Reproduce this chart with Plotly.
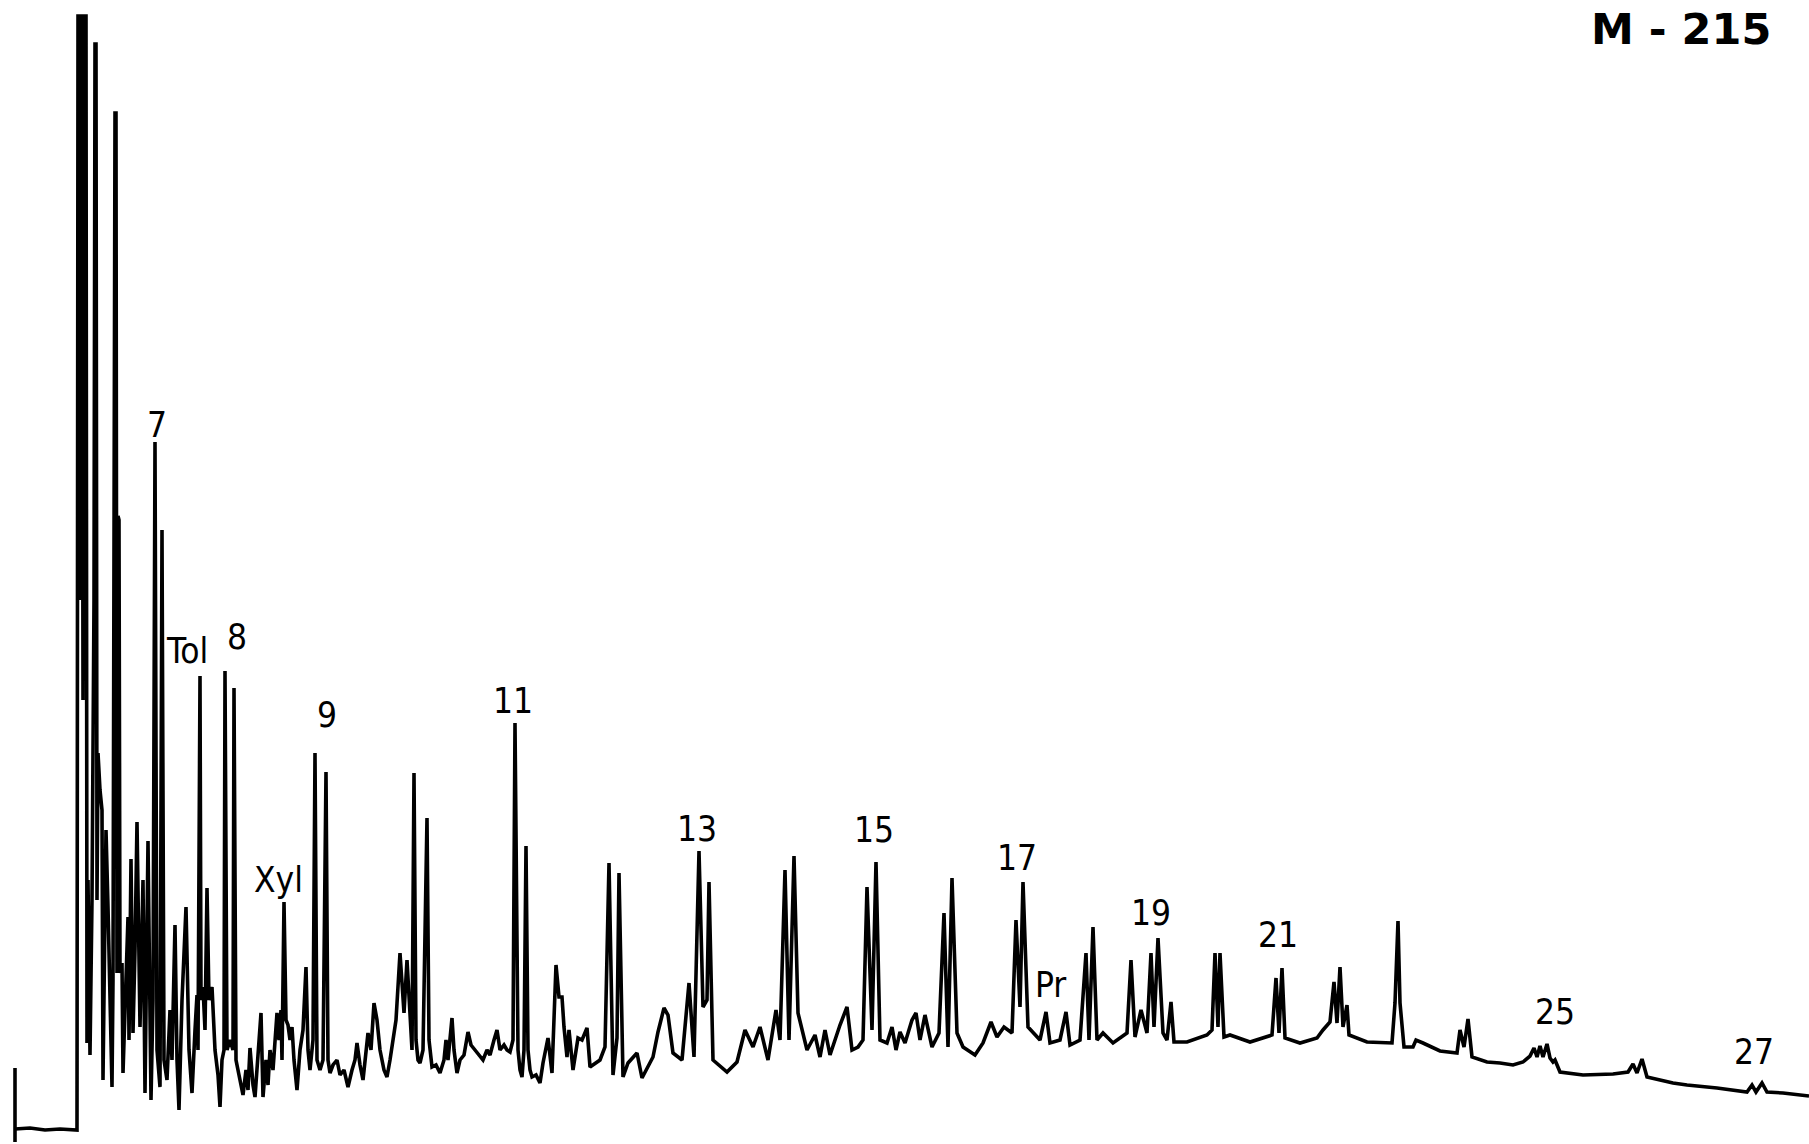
import plotly.graph_objects as go

# Gas chromatogram of sample M-215: retention axis (chart units) and detector response
rt = [
    15, 30, 45, 60, 77,
    78, 79, 80, 81, 82, 83, 84, 86, 87, 88, 90, 92, 94, 95, 96, 97, 98, 100, 102, 103,
    105, 106, 108, 110, 112, 113, 115, 116, 117, 118, 119, 120, 122, 123, 126, 128, 129,
    131, 133, 135, 137, 140, 143, 145, 148, 151, 153, 155, 157, 160, 162, 164, 167, 170,
    172, 175, 177, 179, 182, 186, 189, 192, 195, 197, 198, 200, 201, 203, 205, 207, 209,
    212, 215, 218, 220, 222, 224, 225, 227, 230, 233, 234, 236, 240, 243, 246, 248, 250,
    253, 255, 258, 261, 263, 266, 268, 270, 273, 277, 279, 281, 282, 284, 286, 288, 290,
    292, 294, 297, 300, 303, 306, 308, 310, 313, 315, 317, 320, 323, 326, 328, 330, 333,
    337, 340, 344, 348, 352, 355, 357, 360, 363, 366, 368, 371, 374, 377, 380, 384, 387,
    390, 393, 396, 400, 402, 404, 407, 409, 412, 414, 416, 418, 420, 423, 427, 429, 432,
    436, 440, 444, 446, 448, 452, 454, 457, 460, 464, 468, 471, 475, 479, 483, 487, 490,
    494, 497, 500, 504, 507, 510, 513, 515, 518, 520, 522, 524, 526, 528, 530, 532, 536,
    540, 543, 548, 552, 556, 559, 562, 564, 567, 569, 573, 578, 582, 587, 590, 600, 605,
    609, 613, 617, 619, 623, 628, 637, 642, 653, 658, 664, 668, 673, 682, 689, 694, 699,
    703, 707, 709, 713, 727, 737, 745, 753, 760, 768, 776, 780, 785, 789, 794, 798, 807,
    815, 820, 825, 830, 840, 847, 852, 858, 863, 867, 872, 876, 880, 887, 892, 896, 900,
    905, 912, 916, 920, 925, 932, 939, 944, 948, 952, 957, 963, 975, 983, 991, 997, 1004,
    1012, 1016, 1020, 1023, 1028, 1033, 1040, 1046, 1050, 1060, 1066, 1070, 1080, 1086,
    1089, 1093, 1097, 1103, 1113, 1127, 1131, 1135, 1141, 1147, 1151, 1154, 1158, 1163,
    1167, 1171, 1174, 1187, 1207, 1212, 1215, 1218, 1220, 1224, 1230, 1250, 1272, 1276,
    1279, 1282, 1285, 1300, 1317, 1323, 1330, 1334, 1337, 1340, 1343, 1347, 1349, 1367,
    1392, 1395, 1398, 1400, 1404, 1413, 1416, 1423, 1440, 1457, 1460, 1464, 1468, 1472,
    1487, 1500, 1513, 1523, 1530, 1534, 1537, 1540, 1543, 1547, 1550, 1553, 1555, 1560,
    1583, 1613, 1628, 1633, 1637, 1642, 1647, 1673, 1687, 1717, 1747, 1752, 1756, 1762,
    1767, 1783, 1809,
]

response = [
    1, 2, 0, 1, 0,
    1114, 1114, 530, 1114, 1114, 430, 1114, 1114, 87, 250, 75, 230, 530, 1086, 1086, 230, 377, 340, 320, 50,
    280, 300, 223, 130, 43, 150, 1017, 1017, 157, 614, 610, 157, 167, 57, 150, 213, 90,
    271, 97, 180, 308, 103, 250, 37, 289, 30, 130, 688, 80, 43, 600, 70, 50, 120,
    70, 205, 70, 20, 130, 223, 80, 37, 100, 135, 80, 454, 130, 143, 100, 242, 130,
    143, 80, 55, 23, 70, 80, 459, 80, 90, 80, 442, 70, 47, 35, 60, 40, 82,
    45, 33, 70, 117, 33, 70, 45, 80, 60, 117, 90, 120, 70, 228, 110, 105, 90,
    103, 70, 40, 80, 100, 163, 80, 60, 90, 377, 70, 60, 70, 358, 70, 57, 65,
    70, 55, 60, 43, 60, 70, 87, 65, 50, 80, 97, 80, 127, 110, 80, 60, 53,
    70, 90, 110, 177, 140, 117, 170, 130, 80, 357, 90, 70, 67, 80, 312, 90, 63,
    65, 57, 70, 90, 70, 112, 80, 57, 70, 75, 98, 85, 80, 75, 70, 80, 75,
    90, 100, 80, 85, 80, 78, 90, 407, 80, 60, 53, 80, 284, 80, 60, 53, 55,
    47, 67, 92, 57, 165, 133, 133, 103, 73, 100, 60, 92, 90, 102, 63, 70, 83,
    267, 55, 92, 257, 53, 67, 77, 52, 73, 98, 122, 115, 77, 70, 147, 73, 279,
    123, 130, 248, 70, 58, 68, 100, 83, 103, 70, 120, 90, 260, 90, 274, 117, 80,
    95, 73, 100, 75, 105, 123, 80, 83, 90, 243, 100, 268, 90, 87, 103, 80, 98,
    87, 110, 117, 90, 115, 83, 97, 217, 83, 252, 97, 83, 75, 87, 108, 93, 103,
    97, 210, 123, 248, 103, 97, 90, 118, 87, 90, 118, 85, 90, 177,
    90, 203, 90, 97, 87, 97, 170, 93, 120, 97, 177, 103, 192, 97,
    90, 128, 88, 88, 95, 100, 177, 103, 177, 93, 95, 88, 95, 152,
    97, 162, 92, 87, 92, 100, 108, 148, 107, 163, 103, 125, 95, 88,
    87, 127, 209, 127, 83, 83, 90, 87, 79, 77, 100, 83, 111, 73,
    68, 67, 65, 68, 74, 82, 73, 84, 73, 86, 72, 68, 70, 58,
    55, 56, 58, 66, 57, 71, 53, 47, 45, 42, 38, 45, 38, 47,
    38, 37, 34,
]

# Start-of-run marker on the recorder trace
marker_rt = [15, 15]
marker_response = [62, -12]

# Peak identifications (n-alkane carbon numbers and named compounds)
peak_labels = ["7", "Tol", "8", "Xyl", "9", "11", "13", "15", "17", "Pr", "19", "21", "25", "27"]
label_rt = [157, 187, 237, 278, 327, 513, 697, 874, 1017, 1050, 1151, 1278, 1555, 1754]
label_response = [705, 479, 493, 250, 415, 429, 301, 300, 272, 145, 217, 195, 118, 78]

sample_id = "M - 215"

ink = "#000000"
line_w = 3.6

fig = go.Figure()
fig.add_trace(go.Scatter(x=rt, y=response, mode="lines",
                         line=dict(color=ink, width=line_w), hoverinfo="skip"))
fig.add_trace(go.Scatter(x=marker_rt, y=marker_response, mode="lines",
                         line=dict(color=ink, width=line_w), hoverinfo="skip"))

label_font = dict(family="Liberation Sans Narrow, DejaVu Sans Condensed, Arial Narrow, sans-serif",
                  size=35, color=ink)
for txt, xv, yv in zip(peak_labels, label_rt, label_response):
    fig.add_annotation(x=xv, y=yv, text=txt, showarrow=False,
                       xanchor="center", yanchor="middle", font=label_font)

# Sample identifier in the top-right corner
fig.add_annotation(x=1773, y=1130, text=f"<b>{sample_id}</b>", showarrow=False,
                   xanchor="right", yanchor="top", yshift=-2,
                   font=dict(family="DejaVu Sans, Liberation Sans, sans-serif", size=43, color=ink))

fig.update_layout(
    width=1809, height=1144,
    margin=dict(l=0, r=0, t=0, b=0),
    paper_bgcolor="white", plot_bgcolor="white",
    showlegend=False,
    xaxis=dict(range=[0, 1809], visible=False, fixedrange=True),
    yaxis=dict(range=[-14, 1130], visible=False, fixedrange=True),
)

fig.write_html("out.html", config={"displayModeBar": False})
